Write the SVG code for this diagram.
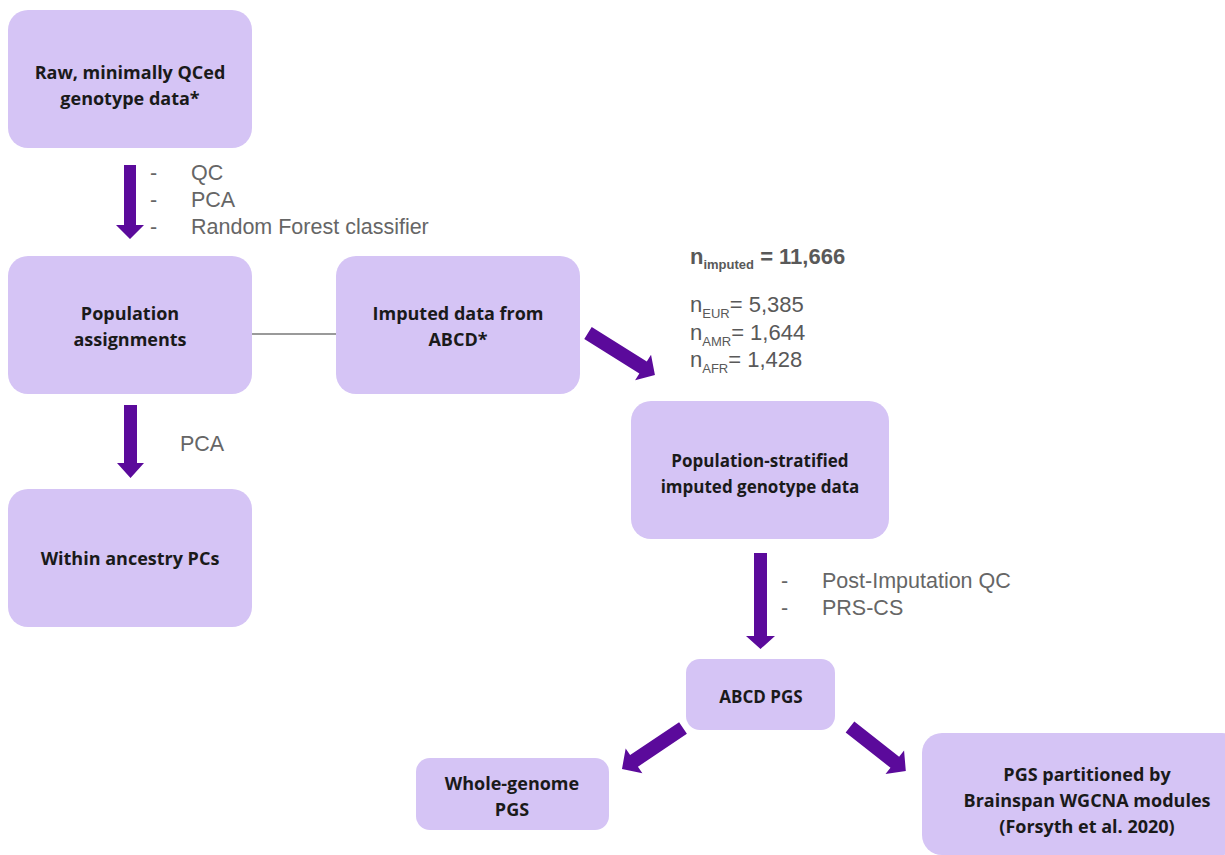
<svg xmlns="http://www.w3.org/2000/svg" width="1225" height="855" viewBox="0 0 1225 855">
<style>
.box{fill:#d5c4f5}
.nt{font-family:"Open Sans","Noto Sans",sans-serif;font-weight:700;font-size:18px;fill:#1a1a1a;text-anchor:middle}
.s17{font-size:17px}
.lb{font-family:"Liberation Sans",Arial,sans-serif;font-size:21.5px;fill:#666666}
.st{font-family:"Liberation Sans",Arial,sans-serif;font-size:22px;fill:#595959}
.sub{font-size:13px}
.arr{fill:#5b0a9b}
</style>
<rect width="1225" height="855" fill="#ffffff"/>
<g id="connectors">
  <line x1="252" y1="334" x2="336" y2="334" stroke="#9a9a9a" stroke-width="2"/>
  <path class="arr" d="M124,165 H136 V225 H144 L130,239 L116,225 H124 Z"/>
  <path class="arr" d="M124,405 H137 V463 H144 L130.5,478 L117,463 H124 Z"/>
  <path class="arr" d="M754,553 H767 V636 H775 L760.5,649 L746,636 H754 Z"/>
  <g transform="translate(588,333) rotate(32.1)"><path class="arr" d="M0,-7 H65 V-15 L79,0 L65,15 V7 H0 Z"/></g>
  <g transform="translate(683,728) rotate(146.1)"><path class="arr" d="M0,-7 H59 V-15 L73.5,0 L59,15 V7 H0 Z"/></g>
  <g transform="translate(850,727) rotate(38.2)"><path class="arr" d="M0,-7 H57 V-15 L71,0 L57,15 V7 H0 Z"/></g>
</g>
<g id="labels">
  <text class="lb" x="150" y="180">-</text><text class="lb" x="191" y="180">QC</text>
  <text class="lb" x="150" y="207">-</text><text class="lb" x="191" y="207">PCA</text>
  <text class="lb" x="150" y="234">-</text><text class="lb" x="191" y="234">Random Forest classifier</text>
  <text class="lb" x="180" y="451">PCA</text>
  <text class="lb" x="781" y="588">-</text><text class="lb" x="822" y="588">Post-Imputation QC</text>
  <text class="lb" x="781" y="615">-</text><text class="lb" x="822" y="615">PRS-CS</text>
</g>
<g id="stats">
  <text class="st" x="690" y="264" font-weight="700">n<tspan class="sub" dy="5">imputed</tspan><tspan dy="-5"> = 11,666</tspan></text>
  <text class="st" x="690" y="312">n<tspan class="sub" dy="6">EUR</tspan><tspan dy="-6">= 5,385</tspan></text>
  <text class="st" x="690" y="340">n<tspan class="sub" dy="6">AMR</tspan><tspan dy="-6">= 1,644</tspan></text>
  <text class="st" x="690" y="367">n<tspan class="sub" dy="6">AFR</tspan><tspan dy="-6">= 1,428</tspan></text>
</g>
<g id="raw">
  <rect class="box" x="8" y="10" width="244" height="138" rx="20"/>
  <text class="nt" x="130" y="79">Raw, minimally QCed</text>
  <text class="nt" x="130" y="105">genotype data*</text>
</g>
<g id="popassign">
  <rect class="box" x="8" y="256" width="244" height="138" rx="20"/>
  <text class="nt" x="130" y="320">Population</text>
  <text class="nt" x="130" y="346">assignments</text>
</g>
<g id="imputed">
  <rect class="box" x="336" y="256" width="244" height="138" rx="20"/>
  <text class="nt" x="458" y="320">Imputed data from</text>
  <text class="nt" x="458" y="346">ABCD*</text>
</g>
<g id="withinpcs">
  <rect class="box" x="8" y="489" width="244" height="138" rx="20"/>
  <text class="nt" x="130" y="565">Within ancestry PCs</text>
</g>
<g id="stratified">
  <rect class="box" x="631" y="401" width="258" height="138" rx="20"/>
  <text class="nt s17" x="760" y="467">Population-stratified</text>
  <text class="nt s17" x="760" y="493">imputed genotype data</text>
</g>
<g id="abcdpgs">
  <rect class="box" x="686" y="659" width="149" height="71" rx="14"/>
  <text class="nt s17" x="761" y="703">ABCD PGS</text>
</g>
<g id="wholegenome">
  <rect class="box" x="416" y="758" width="193" height="72" rx="14"/>
  <text class="nt" x="512" y="790">Whole-genome</text>
  <text class="nt" x="512" y="816">PGS</text>
</g>
<g id="partitioned">
  <rect class="box" x="922" y="733" width="320" height="122" rx="20"/>
  <text class="nt" x="1087" y="781">PGS partitioned by</text>
  <text class="nt" x="1087" y="807">Brainspan WGCNA modules</text>
  <text class="nt" x="1087" y="833">(Forsyth et al. 2020)</text>
</g>
</svg>
